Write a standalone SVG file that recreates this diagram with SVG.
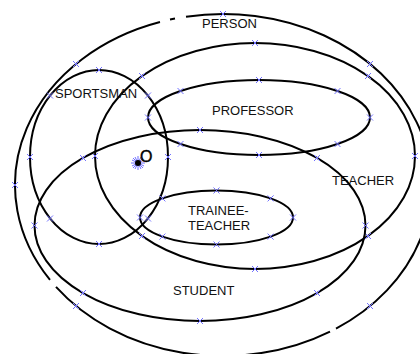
<svg xmlns="http://www.w3.org/2000/svg" xmlns:xlink="http://www.w3.org/1999/xlink" width="420" height="354" viewBox="0 0 420 354">
<style>
.set{fill:none;stroke:#000;stroke-width:2}
.lbl{font-family:"Liberation Sans",Arial,sans-serif;font-size:13px;fill:#111}
.mk{stroke:#7373ff;stroke-width:1;fill:none}
</style>
<defs>
<path id="x" class="mk" d="M-3,-3L3,3M-3,3L3,-3"/>
</defs>
<rect width="420" height="354" fill="#fff"/>
<g id="person">
<path class="set" d="M186,16.7 A208,171 0 0 1 336,328.6 M330,331.6 A208,171 0 0 1 56,286.9 M50,279.9 A208,171 0 0 1 160,22 M170,19.6 L175,18.6"/>
<text class="lbl" x="202" y="28">PERSON</text>
<use href="#x" x="370" y="306"/><use href="#x" x="76" y="306"/><use href="#x" x="15" y="185"/><use href="#x" x="76" y="64"/><use href="#x" x="223" y="14"/><use href="#x" x="370" y="64"/>
</g>
<g id="teacher">
<ellipse class="set" cx="255" cy="156" rx="160" ry="113"/>
<text class="lbl" x="332" y="185">TEACHER</text>
<use href="#x" x="415" y="156"/><use href="#x" x="368" y="236"/><use href="#x" x="255" y="269"/><use href="#x" x="142" y="236"/><use href="#x" x="95" y="156"/><use href="#x" x="142" y="76"/><use href="#x" x="255" y="43"/><use href="#x" x="368" y="76"/>
</g>
<g id="professor">
<ellipse class="set" cx="259" cy="117.5" rx="111" ry="37.5"/>
<text class="lbl" x="212" y="115">PROFESSOR</text>
<use href="#x" x="370" y="117.5"/><use href="#x" x="337.5" y="144"/><use href="#x" x="259" y="155"/><use href="#x" x="180.5" y="144"/><use href="#x" x="148" y="117.5"/><use href="#x" x="180.5" y="91"/><use href="#x" x="259" y="80"/><use href="#x" x="337.5" y="91"/>
</g>
<g id="sportsman">
<ellipse class="set" cx="99" cy="157" rx="69" ry="87"/>
<text class="lbl" x="55" y="98">SPORTSMAN</text>
<use href="#x" x="168" y="157"/><use href="#x" x="148" y="218.5"/><use href="#x" x="99" y="244"/><use href="#x" x="50" y="218.5"/><use href="#x" x="30" y="157"/><use href="#x" x="50" y="95.5"/><use href="#x" x="99" y="70"/><use href="#x" x="148" y="95.5"/>
</g>
<g id="student">
<ellipse class="set" cx="200" cy="225.5" rx="165.5" ry="95.5"/>
<text class="lbl" x="173" y="295">STUDENT</text>
<use href="#x" x="365.5" y="225.5"/><use href="#x" x="317" y="293"/><use href="#x" x="200" y="321"/><use href="#x" x="83" y="293"/><use href="#x" x="34.5" y="225.5"/><use href="#x" x="83" y="158"/><use href="#x" x="200" y="130"/><use href="#x" x="317" y="158"/>
</g>
<g id="trainee-teacher">
<ellipse class="set" cx="216.5" cy="217.5" rx="76.5" ry="27"/>
<text class="lbl" x="188" y="215">TRAINEE-</text>
<text class="lbl" x="188" y="230">TEACHER</text>
<use href="#x" x="293" y="217.5"/><use href="#x" x="270.6" y="236.6"/><use href="#x" x="216.5" y="244.5"/><use href="#x" x="162.4" y="236.6"/><use href="#x" x="140" y="217.5"/><use href="#x" x="162.4" y="198.4"/><use href="#x" x="216.5" y="190.5"/><use href="#x" x="270.6" y="198.4"/>
</g>
<g id="o">
<g stroke="#6f6fff" stroke-width="1"><path d="M131,163H145M138,156V170M133,158L143,168M133,168L143,158M132,160L144,166M132,166L144,160M135,157L141,169M141,157L135,169"/></g>
<circle cx="138" cy="163" r="3" fill="#000"/>
<text x="140" y="162" font-family="'Liberation Sans',Arial,sans-serif" font-size="16" fill="#000" stroke="#000" stroke-width="0.4">O</text>
</g>
<g id="connectors"/>
</svg>
